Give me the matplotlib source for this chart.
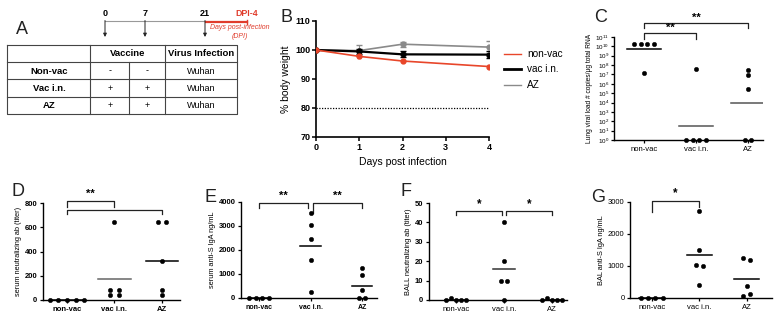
import matplotlib
matplotlib.use('Agg')
import matplotlib.pyplot as plt
import matplotlib.transforms as mtransforms
from matplotlib.lines import Line2D
import numpy as np

plt.rcParams['font.family'] = ['Liberation Sans', 'DejaVu Sans']
plt.rcParams['mathtext.fontset'] = 'custom'
plt.rcParams['mathtext.rm'] = 'Liberation Sans'

# ---------------- data ----------------
groups = ['non-vac', 'vac i.n.', 'AZ']

# Panel A (schedule table)
table_rows = ['Non-vac', 'Vac i.n.', 'AZ']
dose1 = ['-', '+', '+']
dose2 = ['-', '+', '+']
virus = ['Wuhan', 'Wuhan', 'Wuhan']
timeline_labels = ['0', '7', '21']

# Panel B (body weight)
days = [0, 1, 2, 4]
bw_nonvac = [100, 97.8, 96.2, 94.3]
bw_nonvac_err = [0, 0.4, 0.4, 0.4]
bw_vac = [100, 99.5, 98.5, 98.4]
bw_vac_err = [0, 0.8, 1.0, 1.2]
bw_az = [100, 99.8, 102.0, 101.0]
bw_az_err = [0, 1.8, 0.8, 2.2]

# Panel C (lung viral load, copies/ug)
C_nonvac = [2.0e10, 2.0e10, 2.0e10, 2.0e10, 1.6e7]
C_vac = [1, 1, 4.2e7, 1, 1]
C_az = [3.2e7, 9.0e6, 2.8e5, 1, 1]

# Panel D (serum neutralizing titer)
D_nonvac = [0, 0, 0, 0, 0]
D_vac = [640, 80, 80, 40, 40]
D_az = [640, 640, 320, 80, 40]
D_center = [0, 176, 320]

# Panel E (serum anti-S IgA)
E_nonvac = [0, 0, 0, 0]
E_vac = [3540, 3050, 2470, 1600, 240]
E_az = [1270, 960, 330, 0, 0]
E_center = [0, 2180, 510]

# Panel F (BALF neutralizing titer)
F_nonvac = [0, 1, 0, 0, 0]
F_vac = [40, 20, 10, 10, 0]
F_az = [0, 1, 0, 0, 0]
F_center = [0, 16, 0]

# Panel G (BAL anti-S IgA)
G_nonvac = [0, 0, 0, 0]
G_vac = [2710, 1510, 1040, 990, 400]
G_az = [1260, 1190, 385, 60, 125]
G_center = [0, 1330, 604]

# ---------------- layout helpers ----------------
W, H = 782, 319
fig = plt.figure(figsize=(W / 100, H / 100), dpi=100)


def fr(l, t, r, b):
    return [l / W, 1 - b / H, (r - l) / W, (b - t) / H]


ov = fig.add_axes([0, 0, 1, 1])
ov.set_xlim(0, W)
ov.set_ylim(H, 0)
ov.axis('off')

# ---------------- Panel A ----------------
lc = '#444444'
lw = 0.8
ov.plot([7, 237, 237, 7, 7], [45, 45, 114, 114, 45], color=lc, lw=lw)
for yy in [62, 79, 97]:
    ov.plot([7, 237], [yy, yy], color=lc, lw=lw)
ov.plot([90, 90], [45, 114], color=lc, lw=lw)
ov.plot([165, 165], [45, 114], color=lc, lw=lw)
ov.plot([129, 129], [62, 114], color=lc, lw=lw)
ov.text(128, 54, 'Vaccine', ha='center', va='center', fontsize=6.8, fontweight='bold')
ov.text(201, 54, 'Virus Infection', ha='center', va='center', fontsize=6.8, fontweight='bold')
for i, name in enumerate(table_rows):
    yc = 71 + i * 17.3
    ov.text(49, yc, name, ha='center', va='center', fontsize=6.8, fontweight='bold')
    ov.text(110, yc, dose1[i], ha='center', va='center', fontsize=6.5)
    ov.text(147, yc, dose2[i], ha='center', va='center', fontsize=6.5)
    ov.text(201, yc, virus[i], ha='center', va='center', fontsize=6.5)

ov.plot([105, 206], [20.5, 20.5], color='#999999', lw=0.8)
ov.plot([206, 247], [22, 22], color='#e03c2c', lw=1.6)
ov.plot([247, 247], [19.5, 24], color='#e03c2c', lw=1.0)
for xx, lab in zip([105, 145, 205], timeline_labels):
    ov.text(xx, 13, lab, ha='center', va='center', fontsize=6.5, fontweight='bold')
    ov.annotate('', xy=(xx, 37), xytext=(xx, 20.5),
                arrowprops=dict(arrowstyle='-|>', color='#222222', lw=0.7,
                                mutation_scale=5, shrinkA=0, shrinkB=0))
ov.text(247, 13, 'DPI-4', ha='center', va='center', fontsize=6.3, fontweight='bold',
        color='#e03c2c')
ov.text(240, 27.5, 'Days post-infection', ha='center', va='center', fontsize=5,
        style='italic', color='#e03c2c')
ov.text(240, 36, '(DPI)', ha='center', va='center', fontsize=5, style='italic',
        color='#e03c2c')

# Panel letters
letter_kw = dict(ha='center', va='center', fontsize=13, color='#222222')
ov.text(22, 30, 'A', **letter_kw)
ov.text(287, 18, 'B', **letter_kw)
ov.text(601, 17, 'C', **letter_kw)
ov.text(18, 191, 'D', **letter_kw)
ov.text(211, 197, 'E', **letter_kw)
ov.text(406, 192, 'F', **letter_kw)
ov.text(598, 197, 'G', **letter_kw)

# ---------------- Panel B ----------------
axB = fig.add_axes(fr(316, 21, 489, 137))
red = '#e8462a'
gray = '#8a8a8a'
axB.errorbar(days, bw_az, yerr=bw_az_err, color=gray, lw=1.2, marker='o', ms=3.5,
             capsize=2, elinewidth=0.8, zorder=2)
axB.errorbar(days, bw_vac, yerr=bw_vac_err, color='black', lw=1.6, marker='o', ms=3.5,
             capsize=2, elinewidth=0.8, zorder=3)
axB.errorbar(days, bw_nonvac, yerr=bw_nonvac_err, color=red, lw=1.2, marker='o', ms=3.5,
             capsize=1.5, elinewidth=0.6, zorder=4)
axB.plot([days[0], days[-1]], [80, 80], color='black', ls=(0, (1, 1.2)), lw=0.9)
axB.set_xlim(0, 4)
axB.set_ylim(70, 110)
axB.set_xticks([0, 1, 2, 3, 4])
axB.set_yticks([70, 80, 90, 100, 110])
for s in ['top', 'right']:
    axB.spines[s].set_visible(False)
for s in ['left', 'bottom']:
    axB.spines[s].set_linewidth(1.2)
axB.tick_params(length=3, width=1.1, labelsize=6.5, pad=1)
for t in axB.get_xticklabels() + axB.get_yticklabels():
    t.set_fontweight('bold')
axB.set_ylabel('% body weight', fontsize=7.5, labelpad=3)
axB.set_xlabel('Days post infection', fontsize=7.5, labelpad=4)
handles = [Line2D([], [], color=red, lw=1.0),
           Line2D([], [], color='black', lw=2.0),
           Line2D([], [], color=gray, lw=1.0)]
fig.legend(handles, groups, loc='upper left', bbox_to_anchor=(500 / W, 1 - 45 / H),
           frameon=False, fontsize=7.2, handlelength=1.7, handletextpad=0.6,
           labelspacing=0.55, borderaxespad=0)


# ---------------- dot plot helpers ----------------
def swarm_offsets(vals, tol, d):
    vals = np.asarray(vals, float)
    n = len(vals)
    offs = np.zeros(n)
    used = np.zeros(n, bool)
    for i in range(n):
        if used[i]:
            continue
        members = [j for j in range(n) if not used[j] and abs(vals[j] - vals[i]) <= tol]
        for j in members:
            used[j] = True
        k = len(members)
        for m, j in enumerate(members):
            offs[j] = (m - (k - 1) / 2) * d
    return offs


def style_dot_axes(ax, xlim, lab_bold, labsize=5.5):
    ax.set_xlim(*xlim)
    ax.set_xticks(range(len(groups)))
    ax.set_xticklabels(groups, fontsize=labsize,
                       fontweight='bold' if lab_bold else 'normal')
    for s in ['top', 'right']:
        ax.spines[s].set_visible(False)
    for s in ['left', 'bottom']:
        ax.spines[s].set_linewidth(1.0)
    ax.tick_params(length=2.5, width=0.9, pad=1.5)
    ax.tick_params(axis='y', labelsize=5.5)
    if lab_bold:
        for t in ax.get_yticklabels():
            t.set_fontweight('bold')


def bracket(ax, x1, x2, ytop, drop1, drop2, label, ystar, fs=8):
    tr = mtransforms.blended_transform_factory(ax.transData, ax.transAxes)
    ax.plot([x1, x1, x2, x2], [ytop - drop1, ytop, ytop, ytop - drop2], color='#222222',
            lw=0.9, transform=tr, clip_on=False)
    if label:
        ax.text((x1 + x2) / 2, ystar, label, ha='center', va='center', fontsize=fs,
                fontweight='bold', transform=tr, clip_on=False)


def dots(ax, datasets, centers, tol, d, halfw, center_colors, log=False):
    for i, vals in enumerate(datasets):
        v = np.asarray(vals, float)
        key = np.log10(v) if log else v
        offs = swarm_offsets(key, tol, d)
        ax.plot(i + offs, v, 'o', color='black', ms=3.2, mec='black', mew=0.3,
                clip_on=False, zorder=3, ls='none')
        if centers is not None:
            ax.plot([i - halfw, i + halfw], [centers[i], centers[i]],
                    color=center_colors[i], lw=1.1, zorder=2)


# ---------------- Panel C ----------------
axC = fig.add_axes(fr(614, 37, 763, 140))
axC.set_yscale('log')
C_data = [C_nonvac, C_vac, C_az]
C_center = [10 ** np.mean(np.log10(np.asarray(v, float))) for v in C_data]
dots(axC, C_data, C_center, tol=0.3, d=0.13, halfw=0.33,
     center_colors=['black', '#555555', '#555555'], log=True)
axC.set_ylim(1, 1e11)
style_dot_axes(axC, (-0.58, 2.29), False, labsize=5.5)
axC.set_yticks([10.0 ** k for k in range(12)])
axC.set_yticklabels([r'$10^{%d}$' % k for k in range(12)], fontsize=4.5)
axC.yaxis.set_minor_locator(matplotlib.ticker.NullLocator())
axC.tick_params(axis='y', labelsize=4.5, length=2)
axC.set_ylabel('Lung viral load # copies/\u00b5g total RNA', fontsize=4.8, labelpad=2)
bracket(axC, 0, 2, 1.136, 0.05, 0.05, '**', 1.19)
bracket(axC, 0, 1, 1.039, 0.06, 0.06, '**', 1.087)

# ---------------- Panel D ----------------
axD = fig.add_axes(fr(43, 203, 180, 300))
dots(axD, [D_nonvac, D_vac, D_az], D_center, tol=24, d=0.18, halfw=0.34,
     center_colors=['black', '#666666', 'black'])
axD.set_ylim(0, 800)
axD.set_yticks([0, 200, 400, 600, 800])
style_dot_axes(axD, (-0.505, 2.38), True)
axD.set_ylabel('serum neutralizing ab (titer)', fontsize=5.3, labelpad=2)
bracket(axD, 0, 1, 1.02, 0.06, 0.06, '**', 1.09)
bracket(axD, 0, 2, 0.928, 0.045, 0.045, None, 0)

# ---------------- Panel E ----------------
axE = fig.add_axes(fr(241, 202, 377, 298))
dots(axE, [E_nonvac, E_vac, E_az], E_center, tol=120, d=0.13, halfw=0.2,
     center_colors=['black', 'black', 'black'])
axE.set_ylim(0, 4000)
axE.set_yticks([0, 1000, 2000, 3000, 4000])
style_dot_axes(axE, (-0.35, 2.29), True, labsize=5)
axE.set_ylabel('serum anti-S IgA ng/mL', fontsize=5.3, labelpad=2)
bracket(axE, 0, 0.96, 0.99, 0.05, 0.05, '**', 1.06)
bracket(axE, 1.04, 2, 0.99, 0.1, 0.05, '**', 1.06)

# ---------------- Panel F ----------------
axF = fig.add_axes(fr(429, 203, 567, 300))
dots(axF, [F_nonvac, F_vac, F_az], F_center, tol=1.5, d=0.105, halfw=0.22,
     center_colors=['black', '#333333', 'black'])
axF.set_ylim(0, 50)
axF.set_yticks([0, 10, 20, 30, 40, 50])
style_dot_axes(axF, (-0.56, 2.31), False)
for t in axF.get_yticklabels():
    t.set_fontweight('bold')
axF.set_ylabel('BALL neutralizing ab (titer)', fontsize=5.3, labelpad=2)
bracket(axF, 0, 0.96, 0.918, 0.045, 0.045, '*', 0.99, fs=8.5)
bracket(axF, 1.04, 2, 0.918, 0.045, 0.045, '*', 0.99, fs=8.5)

# ---------------- Panel G ----------------
axG = fig.add_axes(fr(630, 202, 772, 298))
dots(axG, [G_nonvac, G_vac, G_az], G_center, tol=90, d=0.15, halfw=0.26,
     center_colors=['black', 'black', 'black'])
axG.set_ylim(0, 3000)
axG.set_yticks([0, 1000, 2000, 3000])
style_dot_axes(axG, (-0.46, 2.53), False)
axG.set_ylabel('BAL anti-S IgA ng/mL', fontsize=5.3, labelpad=2)
bracket(axG, 0, 1, 1.01, 0.115, 0.06, '*', 1.094, fs=8.5)

fig.savefig('out.png', dpi=100)
